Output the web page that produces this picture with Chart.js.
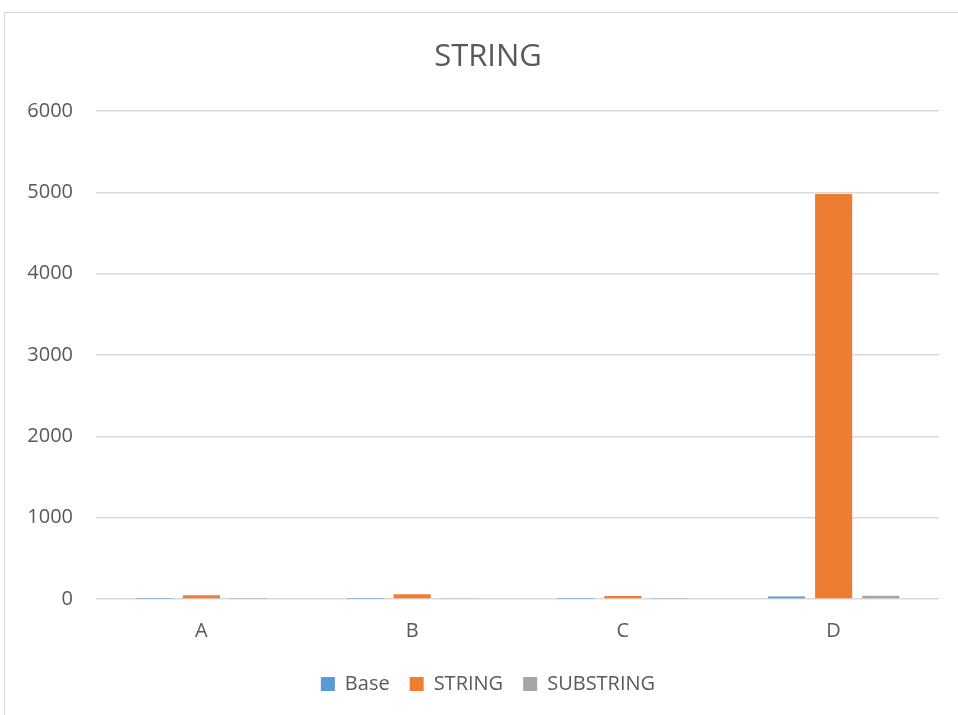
<!DOCTYPE html>
<html>
<head>
<meta charset="utf-8">
<title>STRING</title>
<script src="https://cdn.jsdelivr.net/npm/chart.js@4.4.1/dist/chart.umd.min.js"></script>
<style>
  html, body { margin: 0; padding: 0; background: #ffffff; overflow: hidden; }
  #frame {
    position: absolute; left: 4px; top: 12px; width: 980px; height: 720px;
    border-left: 1px solid #d9d9d9; border-top: 1px solid #d9d9d9;
  }
  #wrap { position: absolute; left: 0; top: 0; width: 976px; height: 715px; }
</style>
</head>
<body>
<div id="frame"></div>
<div id="wrap"><canvas id="chart"></canvas></div>
<script>
// Categories and per-series values
const categories = ['A', 'B', 'C', 'D'];
const baseValues = [3, 4, 3, 32];
const stringValues = [45, 57, 37, 4980];
const substringValues = [4, 5, 3, 40];
const yTicks = [0, 1000, 2000, 3000, 4000, 5000, 6000];

const textColor = '#595959';
const gridColor = '#d9d9d9';
const fontFamily = '"Open Sans", "Noto Sans", sans-serif';

Chart.defaults.font.family = fontFamily;
Chart.defaults.color = textColor;

new Chart(document.getElementById('chart'), {
  type: 'bar',
  data: {
    labels: categories,
    datasets: [
      { label: 'Base', data: baseValues, backgroundColor: '#5b9bd5' },
      { label: 'STRING', data: stringValues, backgroundColor: '#ed7d31' },
      { label: 'SUBSTRING', data: substringValues, backgroundColor: '#a5a5a5' }
    ]
  },
  options: {
    responsive: true,
    maintainAspectRatio: false,
    animation: false,
    categoryPercentage: 0.671,
    barPercentage: 0.787,
    layout: { padding: { left: 0, right: 0, top: 0, bottom: 11 } },
    plugins: {
      title: {
        display: true,
        text: 'STRING',
        color: textColor,
        font: { size: 31, weight: 'normal', lineHeight: 1.2 },
        padding: { top: 39, bottom: 34.8 }
      },
      legend: {
        position: 'bottom',
        labels: {
          boxWidth: 14,
          boxHeight: 14,
          padding: 20,
          color: textColor,
          font: { size: 20 }
        }
      },
      tooltip: { enabled: false }
    },
    scales: {
      x: {
        grid: { display: false, drawTicks: false },
        border: { display: false },
        ticks: { padding: 20, font: { size: 20 }, color: textColor },
        afterFit: (scale) => { scale.height = 55; }
      },
      y: {
        min: 0,
        max: 6000,
        afterBuildTicks: (scale) => { scale.ticks = yTicks.map(v => ({ value: v })); },
        grid: { color: gridColor, lineWidth: 1.5, drawTicks: false },
        border: { display: false },
        ticks: {
          padding: 23,
          font: { size: 20 },
          color: textColor,
          callback: (value) => String(value)
        },
        afterFit: (scale) => { scale.width = 96; }
      },
      // empty right-hand margin of the plot
      yRight: {
        position: 'right',
        display: true,
        min: 0,
        max: 6000,
        grid: { display: false, drawTicks: false },
        border: { display: false },
        ticks: { display: false },
        afterFit: (scale) => { scale.width = 37; }
      }
    }
  }
});
</script>
</body>
</html>
